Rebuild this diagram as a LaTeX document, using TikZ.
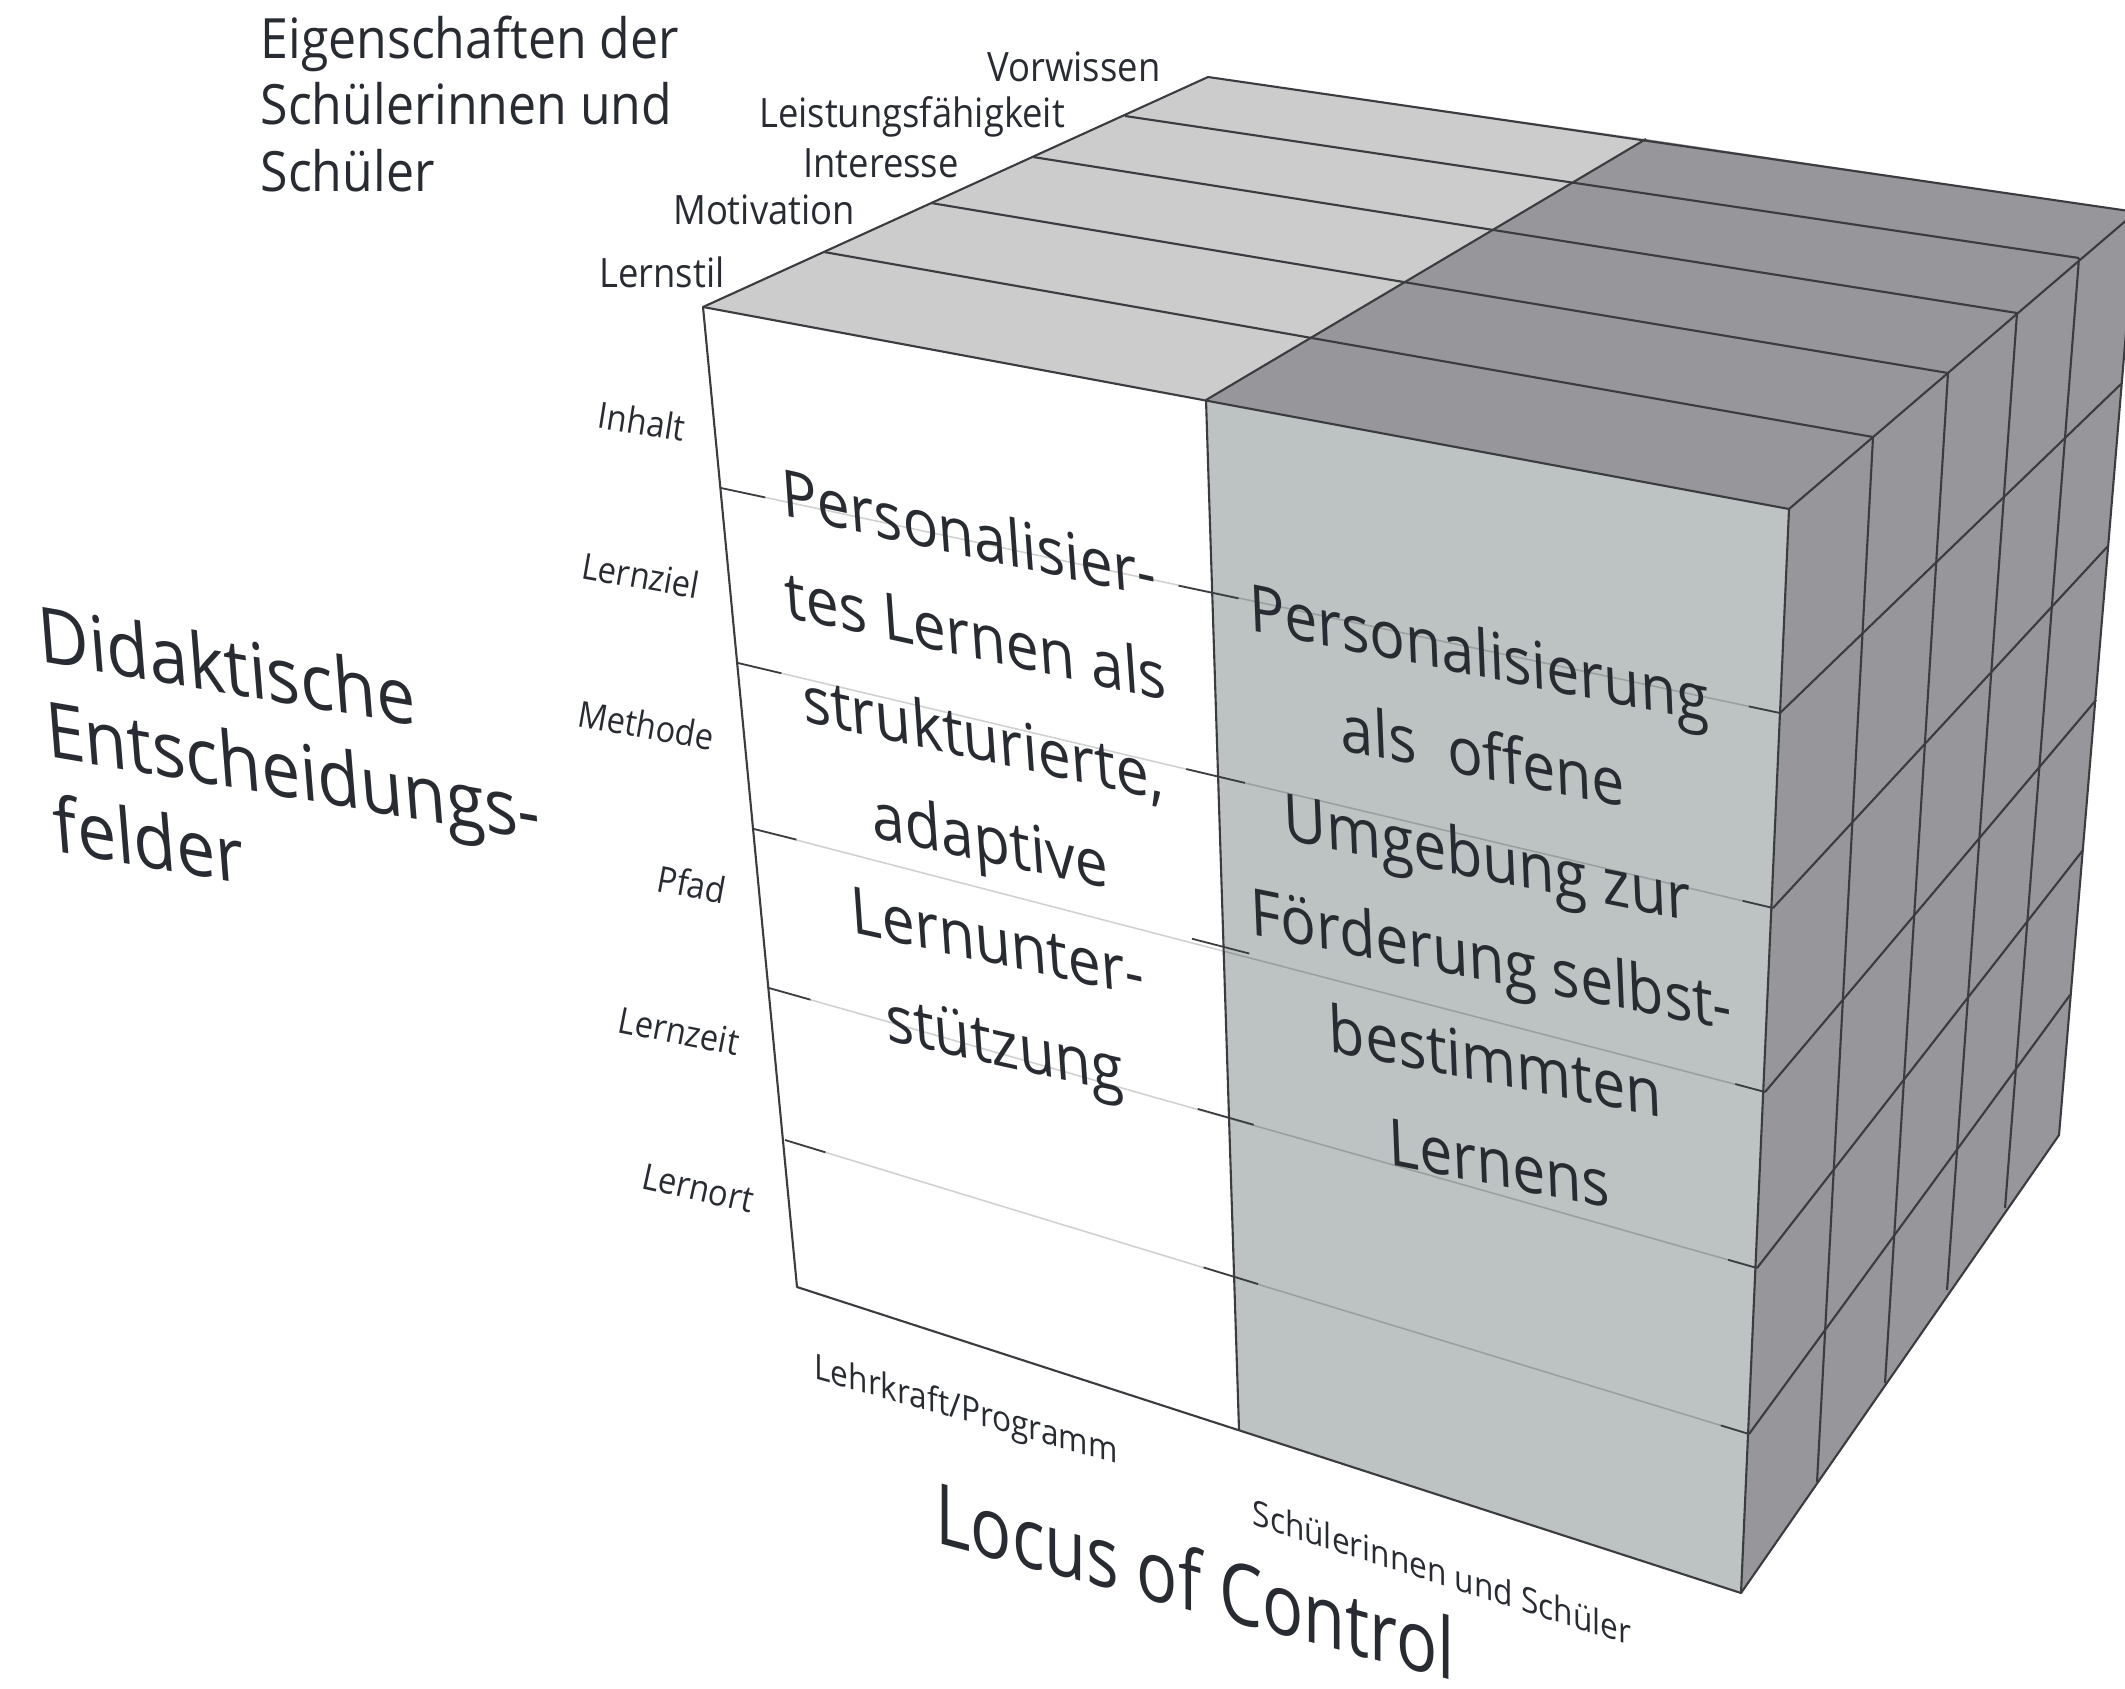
\documentclass[tikz,border=0pt]{standalone}
\usepackage{fontspec}
\setmainfont{Open Sans}[FakeStretch=0.9]
\usetikzlibrary{calc}

\definecolor{ink}{RGB}{40,44,50}
\definecolor{edgecol}{RGB}{58,60,64}
\definecolor{toplight}{RGB}{204,204,204}
\definecolor{sidedark}{RGB}{151,150,155}
\definecolor{frontblue}{RGB}{189,194,194}

\tikzset{
  cubeedge/.style={draw=edgecol, line width=0.6pt, line join=round},
  rowline/.style={draw=black, draw opacity=0.18, line width=0.45pt},
  rowtick/.style={draw=edgecol, line width=0.5pt},
  smalllabel/.style={text=ink, inner sep=0pt, font=\fontsize{10.3}{12}\selectfont},
  proplabel/.style={text=ink, inner sep=0pt, anchor=base, font=\fontsize{11.5}{14}\selectfont},
  facetext/.style={text=ink, inner sep=0pt, align=center, font=\fontsize{18.6}{29}\selectfont},
  biglabel/.style={text=ink, inner sep=0pt, align=left},
}

\begin{document}
\begin{tikzpicture}[x=0.01cm, y=-0.01cm]
  \useasboundingbox (0,0) rectangle (2125,1688);
  \clip (0,0) rectangle (2125,1688);

  % front face: left edge L, column split M, right edge R
  \foreach \i/\lx/\ly/\mx/\my/\rx/\ry in {
    0/703/307/1206/400/1789/509,
    1/721/488/1213/593/1780/713,
    2/738/663/1220/777/1773/908,
    3/754/829/1225/947/1765/1092,
    4/769/988/1230/1118/1757/1268,
    5/785/1140/1235/1277/1749/1434,
    6/797/1287/1239/1430/1741/1593} {
      \coordinate (L\i) at (\lx,\ly);
      \coordinate (M\i) at (\mx,\my);
      \coordinate (R\i) at (\rx,\ry);
    }
  % top face: left edge T, column split U, right edge V
  \foreach \i/\tx/\ty/\ux/\uy/\vx/\vy in {
    1/824/252/1310/338/1873/437,
    2/931/203/1407/283/1948/373,
    3/1033/157/1490/231/2017/313,
    4/1125/116/1573/183/2079/258,
    5/1208/77/1646/139/2136/212} {
      \coordinate (T\i) at (\tx,\ty);
      \coordinate (U\i) at (\ux,\uy);
      \coordinate (V\i) at (\vx,\vy);
    }
  % right face: bottom edge W, back edge B
  \foreach \i/\wx/\wy/\bx/\by in {
    1/1817/1482/2121/384,
    2/1885/1383/2108/546,
    3/1947/1290/2096/700,
    4/2005/1208/2083/850,
    5/2059/1135/2070/995} {
      \coordinate (W\i) at (\wx,\wy);
      \coordinate (B\i) at (\bx,\by);
    }

  % faces
  \fill[white] (L0) -- (M0) -- (M6) -- (L6) -- cycle;
  \fill[frontblue] (M0) -- (R0) -- (R6) -- (M6) -- cycle;
  \fill[toplight] (L0) -- (T5) -- (U5) -- (M0) -- cycle;
  \fill[sidedark] (M0) -- (U5) -- (V5) -- (R0) -- cycle;
  \fill[sidedark] (R0) -- (V5) -- (W5) -- (R6) -- cycle;

  % grid
  \foreach \i in {1,...,5} {
    \draw[rowline] (L\i) -- (R\i);
    \draw[rowtick] (L\i) -- ($(L\i)!0.09!(M\i)$);
    \draw[rowtick] ($(M\i)!0.07!(L\i)$) -- ($(M\i)!0.045!(R\i)$);
    \draw[rowtick] ($(R\i)!0.055!(M\i)$) -- (R\i);
    \draw[cubeedge] (R\i) -- (B\i);
  }
  \foreach \i in {1,...,4} {
    \draw[cubeedge] (T\i) -- (V\i);
    \draw[cubeedge] (V\i) -- (W\i);
  }
  \draw[cubeedge] (M0) -- (U5);
  \draw[cubeedge] (M0) -- (M6);
  \draw[cubeedge] (L0) -- (T5) -- (V5) -- (W5) -- (R6) -- (L6) -- cycle;
  \draw[cubeedge] (L0) -- (R0) -- (R6);
  \draw[cubeedge] (R0) -- (V5);

  % labels
  \node[biglabel, anchor=north west, font=\fontsize{15.8}{18.9}\selectfont] (props) at (260,15)
    {Eigenschaften der\\Schülerinnen und\\Schüler};
  \foreach \i/\txt/\x/\y in {1/Vorwissen/1074/82, 2/Leistungsfähigkeit/912/127,
    3/Interesse/881/177, 4/Motivation/764/225, 5/Lernstil/662/287}
    \node[proplabel] (prop\i) at (\x,\y) {\txt};
  \foreach \i/\txt/\x/\y/\a in {1/Inhalt/642/421/-9, 2/Lernziel/641/575/-10,
    3/Methode/646/725/-10, 4/Pfad/692/884/-10.5, 5/Lernzeit/679/1031/-11,
    6/Lernort/698/1188/-12.5}
    \node[smalllabel, rotate=\a] (field\i) at (\x,\y) {\txt};

  \node[biglabel, anchor=north west, font=\fontsize{22}{27}\selectfont,
    cm={1,-0.17,-0.08,1,(0,0)}] (fields) at (35,602) {Didaktische\\Entscheidungs-\\felder};
  \node[facetext, cm={1,-0.22,-0.07,1,(0,0)}] (teacher) at (987,795)
    {Personalisier-\\tes Lernen als\\strukturierte,\\adaptive\\Lernunter-\\stützung};
  \node[facetext, cm={1,-0.2,-0.04,1,(0,0)}] (student) at (1489,907)
    {Personalisierung\\als~~offene\\Umgebung zur\\Förderung selbst-\\bestimmten\\Lernens};
  \node[smalllabel, font=\fontsize{10}{12}\selectfont, cm={1,-0.28,0,1,(0,0)}] (lehrkraft)
    at (966,1412) {Lehrkraft/Programm};
  \node[smalllabel, font=\fontsize{10}{12}\selectfont, cm={1,-0.32,0,1,(0,0)}] (schueler)
    at (1442,1572) {Schülerinnen und Schüler};
  \node[biglabel, font=\fontsize{24}{28}\selectfont, cm={0.9,-0.24,0,1,(0,0)}] (locus)
    at (1195,1580) {Locus of Control};
\end{tikzpicture}
\end{document}
